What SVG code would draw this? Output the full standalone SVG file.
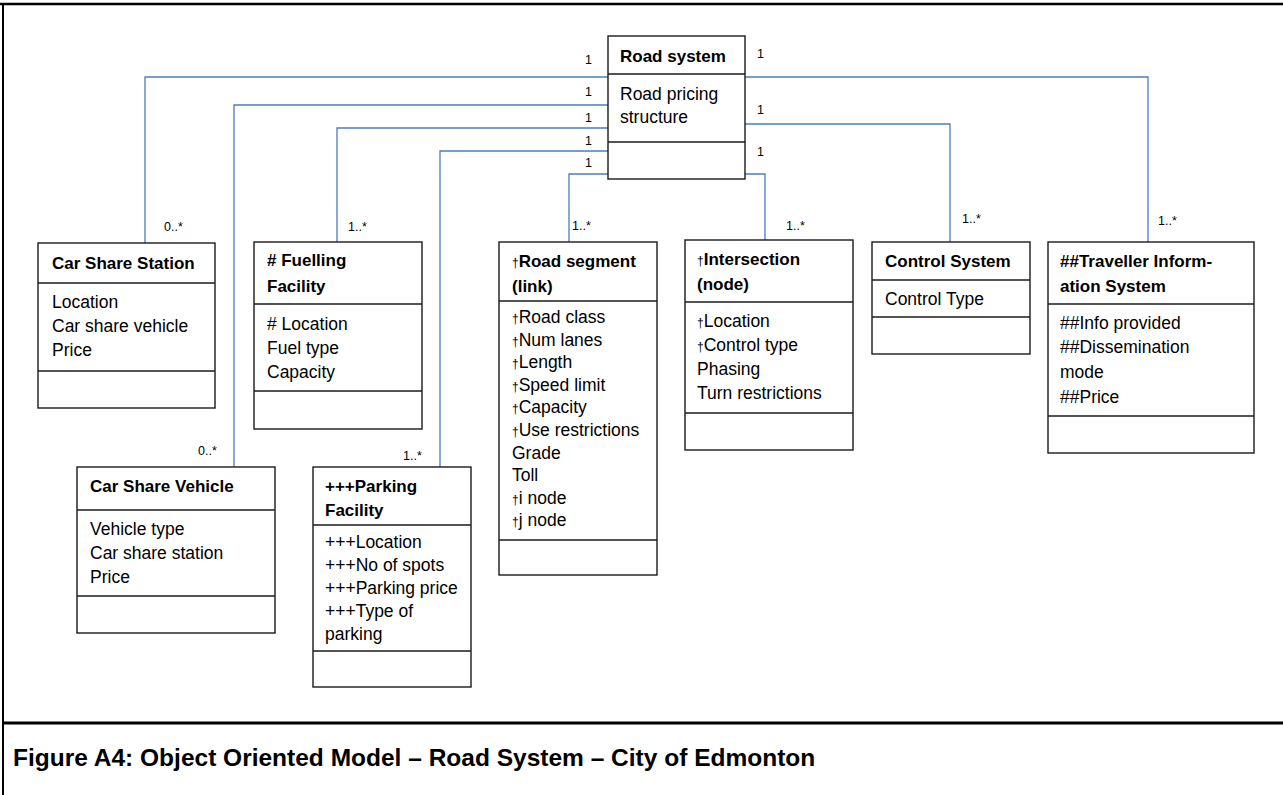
<svg xmlns="http://www.w3.org/2000/svg" width="1283" height="795" viewBox="0 0 1283 795">
<style>
.box{fill:#fff;stroke:#1a1a1a;stroke-width:1.4}
.sep{stroke:#1a1a1a;stroke-width:1.4}
.h{font-family:"Liberation Sans",Arial,sans-serif;font-weight:bold;font-size:17px;fill:#000}
.t{font-family:"Liberation Sans",Arial,sans-serif;font-size:17.5px;fill:#000}
.m{font-family:"Liberation Sans",Arial,sans-serif;font-size:12.5px;fill:#000}
.d{font-size:12px;font-weight:normal}
.c{fill:none;stroke:#4a7ebb;stroke-width:1.3}
.frame{stroke:#000;fill:none}
.title{font-family:"Liberation Sans",Arial,sans-serif;font-weight:bold;font-size:24.5px;fill:#000}
</style>
<rect x="0" y="0" width="1283" height="795" fill="#fff"/>
<g id="frame">
<line class="frame" x1="0" y1="4" x2="1283" y2="4" stroke-width="2.5"/>
<line class="frame" x1="3" y1="3" x2="3" y2="795" stroke-width="2"/>
<line class="frame" x1="3" y1="723" x2="1283" y2="723" stroke-width="3"/>
</g>
<g id="connectors">
<polyline class="c" points="608,77 145,77 145,243"/>
<polyline class="c" points="608,105 234,105 234,467"/>
<polyline class="c" points="608,128 337,128 337,242"/>
<polyline class="c" points="608,151 440,151 440,467"/>
<polyline class="c" points="608,174 569,174 569,242"/>
<polyline class="c" points="745,174 765,174 765,240"/>
<polyline class="c" points="745,124 950,124 950,242"/>
<polyline class="c" points="745,77 1148,77 1148,242"/>
<text class="m" x="585" y="64">1</text>
<text class="m" x="585" y="96">1</text>
<text class="m" x="585" y="122">1</text>
<text class="m" x="585" y="145">1</text>
<text class="m" x="585" y="167">1</text>
<text class="m" x="757" y="58">1</text>
<text class="m" x="757" y="114">1</text>
<text class="m" x="757" y="156">1</text>
<text class="m" x="164" y="231">0..*</text>
<text class="m" x="348" y="231">1..*</text>
<text class="m" x="572" y="230">1..*</text>
<text class="m" x="786" y="230">1..*</text>
<text class="m" x="962" y="223">1..*</text>
<text class="m" x="1158" y="225">1..*</text>
<text class="m" x="198" y="455">0..*</text>
<text class="m" x="403" y="460">1..*</text>
</g>
<g id="road-system">
<rect class="box" x="608" y="36" width="137" height="143"/>
<line class="sep" x1="608" y1="74" x2="745" y2="74"/>
<line class="sep" x1="608" y1="142" x2="745" y2="142"/>
<text class="h" x="620" y="62">Road system</text>
<text class="t" x="620" y="100">Road pricing</text>
<text class="t" x="620" y="123">structure</text>
</g>
<g id="car-share-station">
<rect class="box" x="38" y="243" width="177" height="165"/>
<line class="sep" x1="38" y1="283" x2="215" y2="283"/>
<line class="sep" x1="38" y1="371" x2="215" y2="371"/>
<text class="h" x="52" y="269">Car Share Station</text>
<text class="t" x="52" y="308">Location</text>
<text class="t" x="52" y="332">Car share vehicle</text>
<text class="t" x="52" y="356">Price</text>
</g>
<g id="fuelling-facility">
<rect class="box" x="254" y="242" width="168" height="187"/>
<line class="sep" x1="254" y1="304" x2="422" y2="304"/>
<line class="sep" x1="254" y1="391" x2="422" y2="391"/>
<text class="h" x="267" y="266"># Fuelling</text>
<text class="h" x="267" y="292">Facility</text>
<text class="t" x="267" y="330"># Location</text>
<text class="t" x="267" y="354">Fuel type</text>
<text class="t" x="267" y="378">Capacity</text>
</g>
<g id="road-segment">
<rect class="box" x="499" y="242" width="158" height="333"/>
<line class="sep" x1="499" y1="301" x2="657" y2="301"/>
<line class="sep" x1="499" y1="540" x2="657" y2="540"/>
<text class="h" x="512" y="267"><tspan class="d">†</tspan>Road segment</text>
<text class="h" x="512" y="292">(link)</text>
<text class="t" x="512" y="323"><tspan class="d">†</tspan>Road class</text>
<text class="t" x="512" y="345.6"><tspan class="d">†</tspan>Num lanes</text>
<text class="t" x="512" y="368.2"><tspan class="d">†</tspan>Length</text>
<text class="t" x="512" y="390.8"><tspan class="d">†</tspan>Speed limit</text>
<text class="t" x="512" y="413.4"><tspan class="d">†</tspan>Capacity</text>
<text class="t" x="512" y="436"><tspan class="d">†</tspan>Use restrictions</text>
<text class="t" x="512" y="458.6">Grade</text>
<text class="t" x="512" y="481.2">Toll</text>
<text class="t" x="512" y="503.8"><tspan class="d">†</tspan>i node</text>
<text class="t" x="512" y="526.4"><tspan class="d">†</tspan>j node</text>
</g>
<g id="intersection">
<rect class="box" x="685" y="240" width="168" height="210"/>
<line class="sep" x1="685" y1="302" x2="853" y2="302"/>
<line class="sep" x1="685" y1="413" x2="853" y2="413"/>
<text class="h" x="697" y="265"><tspan class="d">†</tspan>Intersection</text>
<text class="h" x="697" y="290">(node)</text>
<text class="t" x="697" y="327"><tspan class="d">†</tspan>Location</text>
<text class="t" x="697" y="351"><tspan class="d">†</tspan>Control type</text>
<text class="t" x="697" y="375">Phasing</text>
<text class="t" x="697" y="399">Turn restrictions</text>
</g>
<g id="control-system">
<rect class="box" x="872" y="242" width="158" height="112"/>
<line class="sep" x1="872" y1="280" x2="1030" y2="280"/>
<line class="sep" x1="872" y1="317" x2="1030" y2="317"/>
<text class="h" x="885" y="267">Control System</text>
<text class="t" x="885" y="305">Control Type</text>
</g>
<g id="traveller-information-system">
<rect class="box" x="1048" y="242" width="206" height="211"/>
<line class="sep" x1="1048" y1="304" x2="1254" y2="304"/>
<line class="sep" x1="1048" y1="416" x2="1254" y2="416"/>
<text class="h" x="1060" y="267">##Traveller Inform-</text>
<text class="h" x="1060" y="292">ation System</text>
<text class="t" x="1060" y="329">##Info provided</text>
<text class="t" x="1060" y="353">##Dissemination</text>
<text class="t" x="1060" y="378">mode</text>
<text class="t" x="1060" y="403">##Price</text>
</g>
<g id="car-share-vehicle">
<rect class="box" x="77" y="467" width="198" height="166"/>
<line class="sep" x1="77" y1="510" x2="275" y2="510"/>
<line class="sep" x1="77" y1="596" x2="275" y2="596"/>
<text class="h" x="90" y="492">Car Share Vehicle</text>
<text class="t" x="90" y="535">Vehicle type</text>
<text class="t" x="90" y="559">Car share station</text>
<text class="t" x="90" y="583">Price</text>
</g>
<g id="parking-facility">
<rect class="box" x="313" y="467" width="158" height="220"/>
<line class="sep" x1="313" y1="525" x2="471" y2="525"/>
<line class="sep" x1="313" y1="651" x2="471" y2="651"/>
<text class="h" x="325" y="492">+++Parking</text>
<text class="h" x="325" y="516">Facility</text>
<text class="t" x="325" y="548">+++Location</text>
<text class="t" x="325" y="571">+++No of spots</text>
<text class="t" x="325" y="594">+++Parking price</text>
<text class="t" x="325" y="617">+++Type of</text>
<text class="t" x="325" y="640">parking</text>
</g>
<text class="title" x="13" y="766">Figure A4: Object Oriented Model – Road System – City of Edmonton</text>
</svg>
